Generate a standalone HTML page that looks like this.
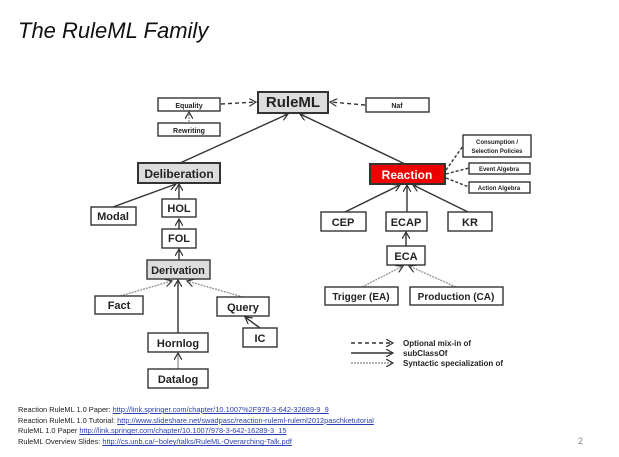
<!DOCTYPE html>
<html><head><meta charset="utf-8"><style>
body{margin:0;background:#fff;width:619px;height:457px;overflow:hidden;font-family:"Liberation Sans",sans-serif}
.t{position:absolute;left:18px;top:18px;font-size:22px;font-style:italic;color:#111}
.f{position:absolute;left:18px;top:405px;font-size:7.4px;line-height:10.7px;color:#222}
.f a{color:#2a3fb0;text-decoration:underline}
.pn{position:absolute;left:578px;top:436px;font-size:9px;color:#888}
</style></head><body>
<div class="t">The RuleML Family</div>
<svg width="619" height="457" style="position:absolute;left:0;top:0" font-family="Liberation Sans, sans-serif" font-weight="bold">
<defs>
<marker id="a" markerWidth="8" markerHeight="8" refX="7" refY="4" orient="auto" markerUnits="userSpaceOnUse"><path d="M0,0 L7,4 L0,8" fill="none" stroke="#333" stroke-width="1.2"/></marker>
</defs>
<g stroke="#333" stroke-width="1.4" fill="none">
<line x1="180" y1="163" x2="288" y2="114" marker-end="url(#a)"/>
<line x1="405" y1="164" x2="300" y2="114" marker-end="url(#a)"/>
<line x1="221" y1="104" x2="256" y2="102" stroke-dasharray="4,3" marker-end="url(#a)"/>
<line x1="365" y1="105" x2="330" y2="102" stroke-dasharray="4,3" marker-end="url(#a)"/>
<line x1="189" y1="122" x2="189" y2="112" stroke="#999" stroke-dasharray="2,1" marker-end="url(#a)"/>
<line x1="113" y1="207" x2="176" y2="184" marker-end="url(#a)"/>
<line x1="179" y1="199" x2="179" y2="184" marker-end="url(#a)"/>
<line x1="179" y1="229" x2="179" y2="219" marker-end="url(#a)"/>
<line x1="179" y1="260" x2="179" y2="249" marker-end="url(#a)"/>
<line x1="178" y1="333" x2="178" y2="280" marker-end="url(#a)"/>
<line x1="178" y1="369" x2="178" y2="353" stroke="#999" marker-end="url(#a)"/>
<line x1="120" y1="296" x2="172" y2="281" stroke="#999" stroke-dasharray="2,1" marker-end="url(#a)"/>
<line x1="243" y1="297" x2="187" y2="281" stroke="#999" stroke-dasharray="2,1" marker-end="url(#a)"/>
<line x1="260" y1="328" x2="245" y2="317" marker-end="url(#a)"/>
<line x1="345" y1="212" x2="400" y2="185" marker-end="url(#a)"/>
<line x1="407" y1="212" x2="407" y2="185" marker-end="url(#a)"/>
<line x1="468" y1="212" x2="413" y2="185" marker-end="url(#a)"/>
<line x1="406" y1="246" x2="406" y2="232" marker-end="url(#a)"/>
<line x1="362" y1="287" x2="403" y2="266" stroke="#999" stroke-dasharray="2,1" marker-end="url(#a)"/>
<line x1="456" y1="287" x2="409" y2="266" stroke="#999" stroke-dasharray="2,1" marker-end="url(#a)"/>
<line x1="446" y1="170" x2="463" y2="146" stroke-dasharray="3,2"/>
<line x1="446" y1="174" x2="469" y2="168" stroke-dasharray="3,2"/>
<line x1="446" y1="178" x2="469" y2="187" stroke-dasharray="3,2"/>
<line x1="351" y1="343" x2="393" y2="343" stroke-dasharray="4,3" marker-end="url(#a)"/>
<line x1="351" y1="353" x2="393" y2="353" marker-end="url(#a)"/>
<line x1="351" y1="363" x2="393" y2="363" stroke="#999" stroke-dasharray="2,1" marker-end="url(#a)"/>
</g>
<g stroke="#333" stroke-width="1.4">
<rect x="258" y="92" width="70" height="21" fill="#ddd" stroke-width="2"/>
<rect x="158" y="98" width="62" height="13" fill="#fff"/>
<rect x="158" y="123" width="62" height="13" fill="#fff"/>
<rect x="366" y="98" width="63" height="14" fill="#fff"/>
<rect x="138" y="163" width="82" height="20" fill="#ddd" stroke-width="2"/>
<rect x="370" y="164" width="75" height="20" fill="#e00" stroke-width="2"/>
<rect x="463" y="135" width="68" height="22" fill="#fff"/>
<rect x="469" y="163" width="61" height="11" fill="#fff"/>
<rect x="469" y="182" width="61" height="11" fill="#fff"/>
<rect x="91" y="207" width="45" height="18" fill="#fff"/>
<rect x="162" y="199" width="34" height="18" fill="#fff"/>
<rect x="162" y="229" width="34" height="19" fill="#fff"/>
<rect x="147" y="260" width="63" height="19" fill="#ddd"/>
<rect x="95" y="296" width="48" height="18" fill="#fff"/>
<rect x="217" y="297" width="52" height="19" fill="#fff"/>
<rect x="243" y="328" width="34" height="19" fill="#fff"/>
<rect x="148" y="333" width="60" height="19" fill="#fff"/>
<rect x="148" y="369" width="60" height="19" fill="#fff"/>
<rect x="321" y="212" width="45" height="19" fill="#fff"/>
<rect x="386" y="212" width="41" height="19" fill="#fff"/>
<rect x="448" y="212" width="44" height="19" fill="#fff"/>
<rect x="387" y="246" width="38" height="19" fill="#fff"/>
<rect x="325" y="287" width="73" height="18" fill="#fff"/>
<rect x="410" y="287" width="93" height="18" fill="#fff"/>
</g>
<g fill="#222" text-anchor="middle" font-size="11">
<text x="293" y="107" font-size="15">RuleML</text>
<text x="189" y="108" font-size="7">Equality</text>
<text x="189" y="133" font-size="7">Rewriting</text>
<text x="397" y="108" font-size="7">Naf</text>
<text x="179" y="178" font-size="12">Deliberation</text>
<text x="407" y="179" font-size="12" fill="#fff">Reaction</text>
<text x="497" y="144" font-size="6">Consumption /</text>
<text x="497" y="153" font-size="6">Selection Policies</text>
<text x="499" y="171" font-size="6">Event Algebra</text>
<text x="499" y="190" font-size="6">Action Algebra</text>
<text x="113" y="220">Modal</text>
<text x="179" y="212">HOL</text>
<text x="179" y="242">FOL</text>
<text x="178" y="274">Derivation</text>
<text x="119" y="309">Fact</text>
<text x="243" y="311">Query</text>
<text x="260" y="342">IC</text>
<text x="178" y="347">Hornlog</text>
<text x="178" y="383">Datalog</text>
<text x="343" y="226">CEP</text>
<text x="406" y="226">ECAP</text>
<text x="470" y="226">KR</text>
<text x="406" y="260">ECA</text>
<text x="361" y="300" font-size="10">Trigger (EA)</text>
<text x="456" y="300" font-size="10">Production (CA)</text>
</g>
<g fill="#222" font-size="8" font-weight="bold">
<text x="403" y="346">Optional mix-in of</text>
<text x="403" y="356">subClassOf</text>
<text x="403" y="366">Syntactic specialization of</text>
</g>
</svg>
<div class="f">Reaction RuleML 1.0 Paper: <a>http://link.springer.com/chapter/10.1007%2F978-3-642-32689-9_9</a><br>Reaction RuleML 1.0 Tutorial: <a>http://www.slideshare.net/swadpasc/reaction-ruleml-ruleml2012paschketutorial</a><br>RuleML 1.0 Paper <a>http://link.springer.com/chapter/10.1007/978-3-642-16289-3_15</a><br>RuleML Overview Slides: <a>http://cs.unb.ca/~boley/talks/RuleML-Overarching-Talk.pdf</a></div>
<div class="pn">2</div>
</body></html>
